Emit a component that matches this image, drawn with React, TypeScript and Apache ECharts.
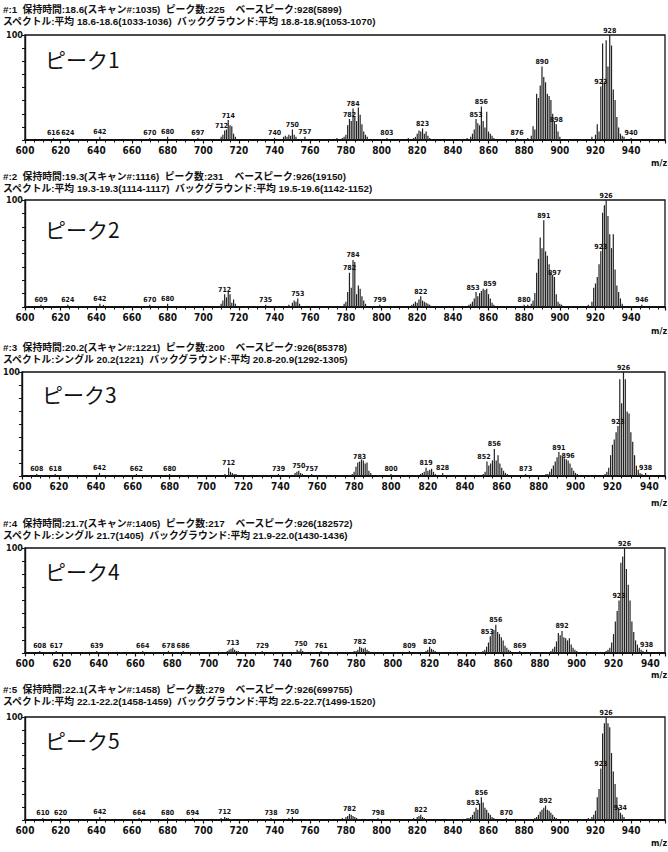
import { useEffect, useRef } from "react";
import * as echarts from "echarts";

// ---- Data (m/z, relative intensity %) ----
const peaks1: [number, number][] = [
  [604, 1], [610, 1], [616, 2], [620, 1], [624, 2], [630, 1], [636, 1], [642, 3], [645, 1], [650, 1], [656, 1], [662, 1], [665, 1], [670, 2], [675, 1], [680, 3], [686, 1], [692, 1], [697, 2], [704, 1],
  [710, 3], [711, 5], [712, 9], [713, 10], [714, 19], [715, 14], [716, 13], [717, 6], [718, 3], [725, 1], [732, 1], [740, 2], [745, 3], [746, 4], [747, 3], [748, 5], [749, 4], [750, 10], [751, 5], [752, 3], [757, 3], [762, 1], [768, 1],
  [775, 2], [778, 2], [779, 3], [780, 5], [781, 14], [782, 20], [783, 18], [784, 30], [785, 22], [786, 18], [787, 31], [788, 24], [789, 15], [790, 8], [791, 5], [792, 3], [795, 1], [803, 2], [810, 1], [815, 2],
  [818, 2], [819, 3], [820, 6], [821, 9], [822, 8], [823, 11], [824, 6], [825, 8], [826, 4], [827, 2], [830, 1], [836, 1], [845, 1], [848, 2],
  [850, 3], [851, 6], [852, 10], [853, 20], [854, 16], [855, 14], [856, 32], [857, 18], [858, 12], [859, 27], [860, 8], [861, 6], [862, 4], [863, 2], [870, 1], [876, 2], [882, 2],
  [884, 4], [885, 13], [886, 10], [887, 44], [888, 40], [889, 52], [890, 70], [891, 60], [892, 55], [893, 44], [894, 42], [895, 38], [896, 25], [897, 18], [898, 15], [899, 8], [900, 3], [905, 1], [912, 1],
  [918, 3], [920, 5], [921, 15], [922, 8], [923, 51], [924, 92], [925, 55], [926, 95], [927, 70], [928, 100], [929, 90], [930, 48], [931, 38], [932, 22], [933, 12], [934, 6], [935, 4], [936, 3], [940, 2], [945, 1],
];
const labels1 = [616, 624, 642, 670, 680, 697, 712, 714, 740, 750, 757, 782, 784, 803, 823, 853, 856, 876, 890, 898, 923, 928, 940];

const peaks2: [number, number][] = [
  [601, 1], [609, 2], [615, 1], [624, 2], [630, 1], [636, 1], [642, 3], [644, 2], [650, 1], [657, 1], [664, 1], [670, 2], [675, 1], [680, 3], [686, 1], [693, 1], [700, 1],
  [710, 3], [711, 6], [712, 12], [713, 9], [714, 14], [715, 12], [716, 4], [717, 7], [718, 3], [724, 1], [730, 1], [735, 2], [742, 1], [748, 2], [750, 4], [751, 6], [752, 5], [753, 8], [754, 3], [760, 1], [770, 1], [776, 1],
  [779, 3], [780, 5], [781, 14], [782, 32], [783, 18], [784, 44], [785, 42], [786, 12], [787, 20], [788, 17], [789, 10], [790, 6], [791, 3], [795, 1], [799, 2], [806, 1], [812, 1],
  [817, 2], [818, 3], [819, 5], [820, 4], [821, 7], [822, 10], [823, 6], [824, 5], [825, 4], [826, 3], [827, 2], [828, 1], [835, 1], [842, 1], [849, 2],
  [850, 3], [851, 5], [852, 8], [853, 14], [854, 10], [855, 13], [856, 15], [857, 17], [858, 16], [859, 17], [860, 12], [861, 8], [862, 4], [863, 2], [870, 1], [876, 1], [880, 2], [882, 2],
  [884, 3], [885, 6], [886, 13], [887, 32], [888, 45], [889, 65], [890, 55], [891, 81], [892, 52], [893, 48], [894, 40], [895, 32], [896, 30], [897, 28], [898, 12], [899, 5], [900, 3], [901, 2], [910, 1],
  [916, 2], [918, 5], [919, 18], [920, 22], [921, 28], [922, 40], [923, 52], [924, 88], [925, 95], [926, 100], [927, 85], [928, 68], [929, 55], [930, 68], [931, 35], [932, 20], [933, 14], [934, 8], [935, 3], [940, 1], [946, 2],
];
const labels2 = [609, 624, 642, 670, 680, 712, 735, 753, 782, 784, 799, 822, 853, 859, 880, 891, 897, 923, 926, 946];

const peaks3: [number, number][] = [
  [604, 1], [608, 2], [612, 1], [618, 2], [625, 1], [632, 1], [642, 3], [646, 1], [655, 1], [662, 2], [670, 1], [680, 2], [688, 1], [695, 1], [705, 1],
  [710, 2], [712, 8], [713, 4], [714, 3], [715, 2], [716, 2], [722, 1], [730, 1], [739, 2], [745, 1], [748, 3], [749, 4], [750, 5], [751, 3], [752, 2], [757, 2], [765, 1], [772, 1], [777, 1],
  [779, 2], [780, 4], [781, 9], [782, 13], [783, 14], [784, 16], [785, 15], [786, 12], [787, 13], [788, 5], [789, 3], [793, 1], [800, 2], [808, 1], [814, 1],
  [816, 2], [817, 3], [818, 4], [819, 8], [820, 5], [821, 6], [822, 7], [823, 4], [824, 2], [828, 3], [835, 1], [842, 1], [848, 1],
  [850, 2], [851, 4], [852, 14], [853, 10], [854, 12], [855, 15], [856, 26], [857, 15], [858, 20], [859, 12], [860, 8], [861, 5], [862, 3], [863, 2], [868, 1], [873, 2], [880, 1],
  [884, 2], [885, 2], [886, 4], [887, 7], [888, 10], [889, 14], [890, 18], [891, 23], [892, 20], [893, 18], [894, 17], [895, 16], [896, 15], [897, 12], [898, 8], [899, 5], [900, 3], [901, 2], [908, 1], [914, 1],
  [916, 2], [917, 4], [918, 8], [919, 20], [920, 30], [921, 35], [922, 42], [923, 48], [924, 93], [925, 70], [926, 100], [927, 93], [928, 62], [929, 60], [930, 42], [931, 33], [932, 20], [933, 10], [934, 6], [935, 3], [936, 2], [938, 3],
];
const labels3 = [608, 618, 642, 662, 680, 712, 739, 750, 757, 783, 800, 819, 828, 852, 856, 873, 891, 896, 923, 926, 938];

const peaks4: [number, number][] = [
  [603, 1], [608, 2], [612, 1], [617, 2], [625, 1], [632, 1], [639, 2], [646, 1], [652, 1], [658, 1], [664, 2], [670, 1], [678, 2], [682, 1], [686, 2], [693, 1], [700, 1], [706, 1],
  [710, 2], [711, 3], [712, 4], [713, 5], [714, 3], [715, 2], [716, 2], [718, 1], [722, 1], [729, 2], [735, 1], [742, 1], [748, 3], [749, 2], [750, 4], [751, 2], [752, 1], [757, 1], [761, 2], [768, 1], [775, 1],
  [779, 2], [780, 2], [781, 3], [782, 6], [783, 5], [784, 4], [785, 5], [786, 3], [787, 2], [790, 1], [795, 1], [802, 1], [809, 2], [815, 1],
  [818, 2], [819, 3], [820, 6], [821, 4], [822, 3], [823, 2], [826, 1], [832, 1], [840, 1], [846, 1], [849, 2],
  [850, 3], [851, 6], [852, 10], [853, 16], [854, 20], [855, 22], [856, 27], [857, 20], [858, 18], [859, 15], [860, 12], [861, 7], [862, 5], [863, 3], [864, 2], [869, 2], [875, 1], [880, 1], [884, 1],
  [886, 2], [887, 4], [888, 6], [889, 11], [890, 19], [891, 17], [892, 21], [893, 15], [894, 14], [895, 12], [896, 14], [897, 8], [898, 5], [899, 3], [900, 2], [906, 1], [912, 1],
  [916, 2], [917, 3], [918, 5], [919, 10], [920, 18], [921, 30], [922, 40], [923, 50], [924, 86], [925, 92], [926, 100], [927, 80], [928, 65], [929, 50], [930, 30], [931, 20], [932, 12], [933, 8], [934, 5], [935, 3], [936, 2], [938, 3],
];
const labels4 = [608, 617, 639, 664, 678, 686, 713, 729, 750, 761, 782, 809, 820, 853, 856, 869, 892, 923, 926, 938];

const peaks5: [number, number][] = [
  [603, 1], [610, 2], [614, 1], [620, 2], [627, 1], [634, 1], [642, 3], [648, 1], [655, 1], [664, 2], [670, 1], [676, 1], [680, 2], [686, 1], [694, 2], [700, 1], [706, 1],
  [710, 2], [712, 3], [713, 2], [714, 2], [716, 1], [722, 1], [730, 1], [738, 2], [744, 1], [748, 2], [750, 3], [752, 1], [758, 1], [765, 1], [772, 1],
  [778, 2], [780, 3], [781, 4], [782, 6], [783, 5], [784, 4], [785, 3], [786, 2], [788, 1], [792, 1], [798, 2], [805, 1], [812, 1],
  [818, 2], [820, 3], [821, 4], [822, 5], [823, 3], [824, 2], [830, 1], [838, 1], [845, 1], [848, 2], [849, 2],
  [850, 3], [851, 5], [852, 8], [853, 12], [854, 10], [855, 16], [856, 22], [857, 17], [858, 12], [859, 10], [860, 7], [861, 5], [862, 3], [863, 2], [870, 2], [877, 1], [883, 1],
  [886, 2], [887, 3], [888, 5], [889, 8], [890, 10], [891, 12], [892, 14], [893, 10], [894, 9], [895, 7], [896, 5], [897, 3], [898, 2], [905, 1], [912, 1],
  [916, 2], [918, 3], [919, 5], [920, 9], [921, 22], [922, 30], [923, 50], [924, 84], [925, 94], [926, 100], [927, 94], [928, 90], [929, 65], [930, 47], [931, 35], [932, 22], [933, 12], [934, 7], [935, 5], [936, 3],
];
const labels5 = [610, 620, 642, 664, 680, 694, 712, 738, 750, 782, 798, 822, 853, 856, 870, 892, 923, 926, 934];

const titles = ["ピーク1", "ピーク2", "ピーク3", "ピーク4", "ピーク5"];
const headerLine1 = [
  "#:1  保持時間:18.6(スキャン#:1035)  ピーク数:225    ベースピーク:928(5899)",
  "#:2  保持時間:19.3(スキャン#:1116)  ピーク数:231    ベースピーク:926(19150)",
  "#:3  保持時間:20.2(スキャン#:1221)  ピーク数:200    ベースピーク:926(85378)",
  "#:4  保持時間:21.7(スキャン#:1405)  ピーク数:217    ベースピーク:926(182572)",
  "#:5  保持時間:22.1(スキャン#:1458)  ピーク数:279    ベースピーク:926(699755)",
];
const headerLine2 = [
  "スペクトル:平均 18.6-18.6(1033-1036)  バックグラウンド:平均 18.8-18.9(1053-1070)",
  "スペクトル:平均 19.3-19.3(1114-1117)  バックグラウンド:平均 19.5-19.6(1142-1152)",
  "スペクトル:シングル 20.2(1221)  バックグラウンド:平均 20.8-20.9(1292-1305)",
  "スペクトル:シングル 21.7(1405)  バックグラウンド:平均 21.9-22.0(1430-1436)",
  "スペクトル:平均 22.1-22.2(1458-1459)  バックグラウンド:平均 22.5-22.7(1499-1520)",
];
const xMin = 600;
const xMaxes = [959, 959, 948.5, 948, 959];

const peaksAll = [peaks1, peaks2, peaks3, peaks4, peaks5];
const labelsAll = [labels1, labels2, labels3, labels4, labels5];

// ---- Layout ----
const layout = [
  { left: 25, top: 35, base: 140, h1: 8, titleY: 60, mzY: 163 },
  { left: 25, top: 200, base: 307, h1: 175, titleY: 230, mzY: 331 },
  { left: 22, top: 372, base: 476, h1: 346, titleY: 395, mzY: 503 },
  { left: 25, top: 548, base: 653, h1: 522, titleY: 572, mzY: 675 },
  { left: 25, top: 717, base: 820, h1: 688, titleY: 741, mzY: 843 },
];
// small label nudges (panel index -> m/z -> [dx, dy])
const labelNudge: Record<number, Record<number, [number, number]>> = {
  0: { 712: [-3, 0] },
  1: { 853: [-3, 0], 859: [3, 0] },
  2: { 852: [-3, 0] },
  3: { 853: [-3, 0] },
  4: { 853: [-3, 0] },
};
const RIGHT = 665;
const CJK = "'Noto Sans CJK JP', 'Noto Sans', sans-serif";
const HEAD = "'Liberation Sans', 'Noto Sans CJK JP', sans-serif";
const NUM = "'Liberation Sans Narrow', 'DejaVu Sans Condensed', 'Liberation Sans', sans-serif";

export default function App() {
  const ref = useRef<HTMLDivElement>(null);
  useEffect(() => {
    if (!ref.current) return;
    const chart = echarts.init(ref.current, undefined, { renderer: "svg" });
    const grid: any[] = [];
    const xAxis: any[] = [];
    const yAxis: any[] = [];
    const series: any[] = [];
    const graphic: any[] = [];
    layout.forEach((L, i) => {
      grid.push({
        left: L.left,
        top: L.top,
        width: RIGHT - L.left,
        height: L.base - L.top,
        show: true,
        borderColor: "#111",
        borderWidth: 1.3,
        backgroundColor: "transparent",
      });
      xAxis.push({
        type: "value",
        gridIndex: i,
        min: xMin,
        max: xMaxes[i],
        interval: 20,
        axisLine: { show: true, lineStyle: { color: "#111", width: 1.8 } },
        axisTick: { show: true, length: 3.5, lineStyle: { color: "#111", width: 1.2 } },
        minorTick: { show: true, splitNumber: 4, length: 2.5, lineStyle: { color: "#111", width: 1 } },
        splitLine: { show: false },
        axisLabel: {
          margin: 5,
          fontSize: 10,
          fontWeight: "bold",
          color: "#111",
          fontFamily: NUM,
          formatter: (v: number) => (v % 20 === 0 ? String(v) : ""),
        },
      });
      yAxis.push({
        type: "value",
        gridIndex: i,
        min: 0,
        max: 100,
        interval: 12.5,
        axisLine: { show: true, lineStyle: { color: "#111", width: 1.4 } },
        axisTick: { show: true, length: 3, lineStyle: { color: "#111" } },
        splitLine: { show: false },
        axisLabel: {
          margin: 2,
          fontSize: 9,
          fontWeight: "bold",
          color: "#111",
          fontFamily: NUM,
          formatter: (v: number) => (v === 100 ? "100" : ""),
        },
      });
      const labs = labelsAll[i];
      const nudge = labelNudge[i] || {};
      series.push({
        type: "bar",
        xAxisIndex: i,
        yAxisIndex: i,
        barWidth: 1.2,
        itemStyle: { color: "#222" },
        label: {
          show: false,
          position: "top",
          distance: 1,
          fontSize: 7,
          fontWeight: "bold",
          color: "#111",
          fontFamily: NUM,
          formatter: (p: any) => String(p.value[0]),
        },
        data: peaksAll[i].map(([m, v]) => ({
          value: [m, v],
          label: labs.includes(m)
            ? { show: true, offset: nudge[m] || [0, 0] }
            : undefined,
        })),
      });
      graphic.push(
        {
          type: "text",
          left: 3,
          top: L.h1 - 5,
          style: {
            text: headerLine1[i] + "\n" + headerLine2[i],
            font: `bold 9.8px ${HEAD}`,
            lineHeight: 12,
            fill: "#111",
          },
        },
        {
          type: "text",
          left: L.left + 20,
          top: L.titleY - 12,
          style: { text: titles[i], font: `21px ${CJK}`, fill: "#111" },
        },
        {
          type: "text",
          left: 651,
          top: L.mzY - 5,
          style: { text: "m/z", font: `bold 9px ${NUM}`, fill: "#111" },
        }
      );
    });
    chart.setOption({
      animation: false,
      backgroundColor: "#fff",
      grid,
      xAxis,
      yAxis,
      series,
      graphic,
    });
    return () => chart.dispose();
  }, []);
  return (
    <div
      ref={ref}
      style={{ position: "fixed", left: 0, top: 0, width: 668, height: 852 }}
    />
  );
}
